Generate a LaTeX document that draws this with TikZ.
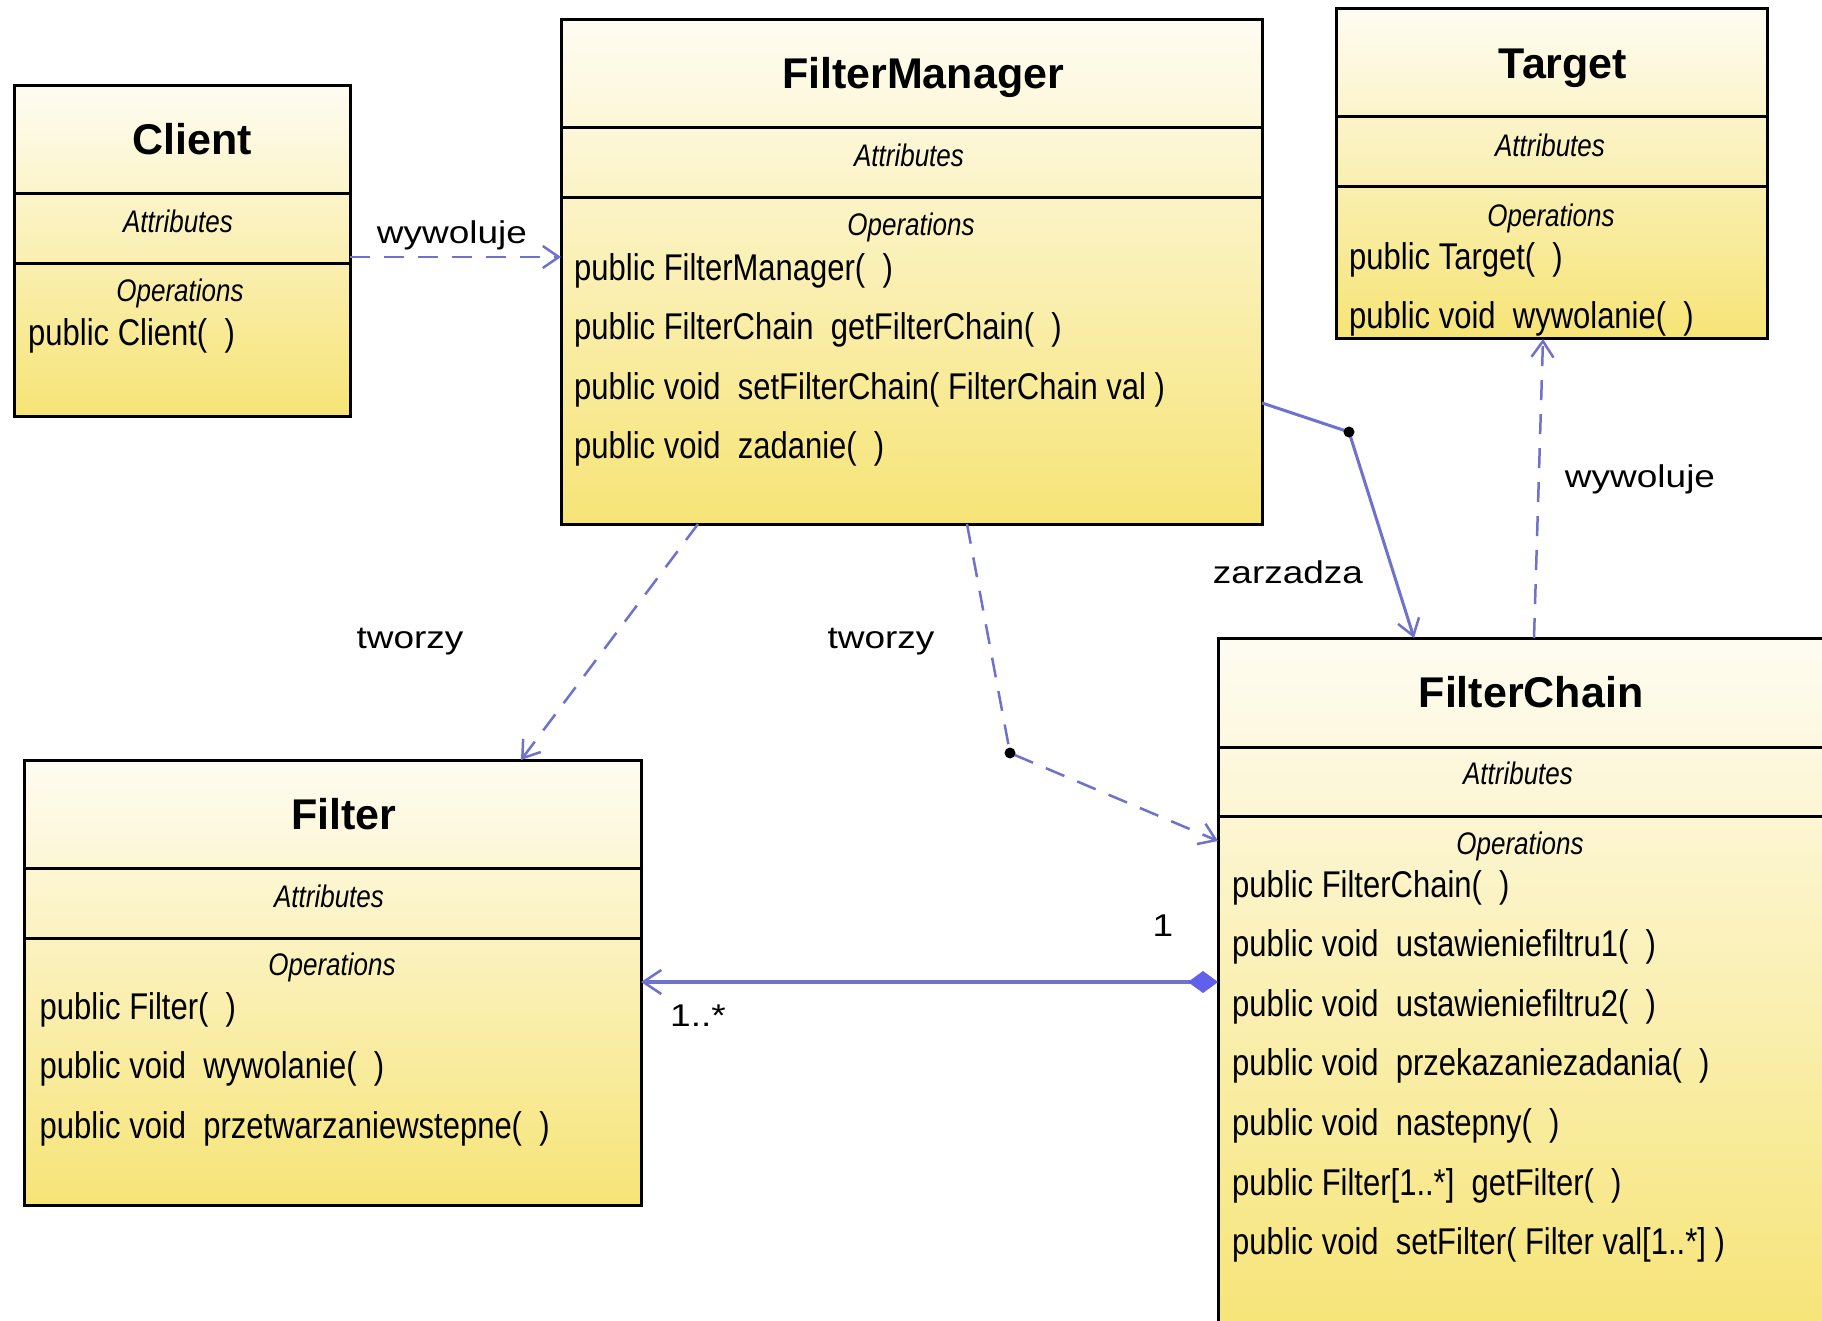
\documentclass[tikz,border=0pt]{standalone}
\usepackage{fontspec}
\setmainfont{Liberation Sans}
\usetikzlibrary{arrows.meta,calc}
\definecolor{lnk}{RGB}{112,112,205}
\definecolor{dia}{RGB}{96,96,235}
\definecolor{boxtop}{RGB}{254,252,242}
\definecolor{boxbot}{RGB}{246,228,118}
\newcommand\vstr[1]{\scalebox{1}[1.2]{#1}}
\newcommand\vsqz[1]{\scalebox{1}[0.85]{#1}}
\begin{document}
\begin{tikzpicture}[x=1pt,y=-1pt,
  umlbox/.style={draw=black, line width=3pt, top color=boxtop, bottom color=boxbot,
    anchor=north west, inner sep=0pt, outer sep=0pt},
  divline/.style={draw=black, line width=3pt},
  cname/.style={font=\fontsize{43}{50}\selectfont\bfseries, inner sep=0pt},
  csec/.style={font=\fontsize{26}{30}\selectfont\itshape, inner sep=0pt},
  cop/.style={font=\fontsize{31}{36}\selectfont, inner sep=0pt, anchor=west},
  lbl/.style={font=\fontsize{37}{42}\selectfont, inner sep=0pt},
  dep/.style={draw=lnk, line width=2.5pt, dash pattern=on 20pt off 14pt,
    -{Straight Barb[length=16pt,width=22pt,line width=2.5pt]}},
  asc/.style={draw=lnk, line width=3pt,
    -{Straight Barb[length=16pt,width=22pt,line width=2.5pt]}},
  comp/.style={draw=lnk, line width=3.5pt,
    {Diamond[length=30pt,width=22pt,fill=dia,color=dia]}-{Straight Barb[length=18pt,width=24pt,line width=2.5pt]}},
  bendpt/.style={circle, fill=black, inner sep=0pt, minimum size=11pt}
]
\useasboundingbox (0,0) rectangle (1822,1321);
\fill[white] (0,0) rectangle (1822,1321);

% ---------------- Client
\node[umlbox, minimum width=336pt, minimum height=330pt] (client) at (14,86) {};
\draw[divline] (client.west |- 0,194) -- (client.east |- 0,194);
\draw[divline] (client.west |- 0,264) -- (client.east |- 0,264);
\node[cname] (clientn) at (192,139) {Client};
\node[csec] (clienta) at (178,221) {\vstr{Attributes}};
\node[csec] (cliento) at (180,293.5) {\vstr{Operations}};
\node[cop] (clientop1) at (28,335.5) {\vstr{public Client(\ \ )}};

% ---------------- FilterManager
\node[umlbox, minimum width=701pt, minimum height=504pt] (fm) at (561,20) {};
\draw[divline] (fm.west |- 0,128) -- (fm.east |- 0,128);
\draw[divline] (fm.west |- 0,198) -- (fm.east |- 0,198);
\node[cname] (fmn) at (923,77) {FilterManager};
\node[csec] (fma) at (909,155) {\vstr{Attributes}};
\node[csec] (fmo) at (911,227.5) {\vstr{Operations}};
\node[cop] (fmop1) at (574,270.5) {\vstr{public FilterManager(\ \ )}};
\node[cop] (fmop2) at (574,330) {\vstr{public FilterChain\ \ getFilterChain(\ \ )}};
\node[cop] (fmop3) at (574,389.5) {\vstr{public void\ \ setFilterChain(\ FilterChain val\ )}};
\node[cop] (fmop4) at (574,448.5) {\vstr{public void\ \ zadanie(\ \ )}};

% ---------------- Target
\node[umlbox, minimum width=431pt, minimum height=330pt] (target) at (1336,9) {};
\draw[divline] (target.west |- 0,117) -- (target.east |- 0,117);
\draw[divline] (target.west |- 0,187) -- (target.east |- 0,187);
\node[cname] (targetn) at (1563,68) {Target};
\node[csec] (targeta) at (1550,145) {\vstr{Attributes}};
\node[csec] (targeto) at (1551,218) {\vstr{Operations}};
\node[cop] (targetop1) at (1349,259.5) {\vstr{public Target(\ \ )}};
\node[cop] (targetop2) at (1349,318.5) {\vstr{public void\ \ wywolanie(\ \ )}};

% ---------------- Filter
\node[umlbox, minimum width=617pt, minimum height=445pt] (filter) at (24,760) {};
\draw[divline] (filter.west |- 0,868) -- (filter.east |- 0,868);
\draw[divline] (filter.west |- 0,938) -- (filter.east |- 0,938);
\node[cname] (filtern) at (344,814.5) {Filter};
\node[csec] (filtera) at (329,896) {\vstr{Attributes}};
\node[csec] (filtero) at (332,967) {\vstr{Operations}};
\node[cop] (filterop1) at (39.5,1009.5) {\vstr{public Filter(\ \ )}};
\node[cop] (filterop2) at (39.5,1069) {\vstr{public void\ \ wywolanie(\ \ )}};
\node[cop] (filterop3) at (39.5,1128.5) {\vstr{public void\ \ przetwarzaniewstepne(\ \ )}};

% ---------------- FilterChain
\node[umlbox, minimum width=620pt, minimum height=700pt] (fc) at (1218,638) {};
\draw[divline] (fc.west |- 0,747) -- (fc.east |- 0,747);
\draw[divline] (fc.west |- 0,816) -- (fc.east |- 0,816);
\node[cname] (fcn) at (1531,692.5) {FilterChain};
\node[csec] (fca) at (1518,773) {\vstr{Attributes}};
\node[csec] (fco) at (1520,846) {\vstr{Operations}};
\node[cop] (fcop1) at (1232,887.5) {\vstr{public FilterChain(\ \ )}};
\node[cop] (fcop2) at (1232,947) {\vstr{public void\ \ ustawieniefiltru1(\ \ )}};
\node[cop] (fcop3) at (1232,1006.5) {\vstr{public void\ \ ustawieniefiltru2(\ \ )}};
\node[cop] (fcop4) at (1232,1065.5) {\vstr{public void\ \ przekazaniezadania(\ \ )}};
\node[cop] (fcop5) at (1232,1126) {\vstr{public void\ \ nastepny(\ \ )}};
\node[cop] (fcop6) at (1232,1185.5) {\vstr{public Filter[1..*]\ \ getFilter(\ \ )}};
\node[cop] (fcop7) at (1232,1244.5) {\vstr{public void\ \ setFilter(\ Filter val[1..*]\ )}};

% ---------------- connectors
\coordinate (b1) at (1010,753);
\coordinate (b2) at (1349,432);

\draw[dep] (client.east |- 0,257) -- (fm.west |- 0,257);
\node[lbl] (l1) at (452,235) {\vsqz{wywoluje}};

\draw[dep] ($(fm.south west)+(137,0)$) -- ($(filter.north west)+(497,0)$);
\node[lbl] (l2) at (410,642) {\vsqz{tworzy}};

\draw[dep] ($(fm.south west)+(406,0)$) -- (b1) -- (fc.west |- 0,841);
\node[lbl] (l3) at (881,642) {\vsqz{tworzy}};
\node[bendpt] at (b1) {};

\draw[asc] (fm.east |- 0,403) -- (b2) -- ($(fc.north west)+(196,0)$);
\node[lbl] (l4) at (1288,572) {\vsqz{zarzadza}};
\node[bendpt] at (b2) {};

\draw[dep] ($(fc.north west)+(316,0)$) -- ($(target.south west)+(207,0)$);
\node[lbl] (l5) at (1640,479) {\vsqz{wywoluje}};

\draw[comp] (fc.west |- 0,982) -- (filter.east |- 0,982);
\node[lbl] (m1) at (1163,926) {\vsqz{1}};
\node[lbl] (m2) at (698,1016) {\vsqz{1..*}};
\end{tikzpicture}
\end{document}
